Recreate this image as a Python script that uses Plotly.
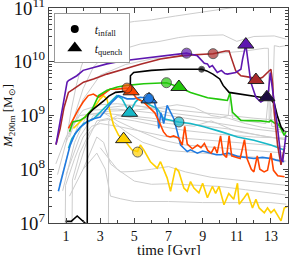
import plotly.graph_objects as go

# ---------------- data (time in Gyr, log10 of M200m in Msun) ----------------
purple_t = [0.41, 0.65, 0.88, 1.06, 1.14, 1.33, 1.63, 2.0, 2.59, 3.39, 4.35, 5.35, 6.53, 7.5, 8.06, 8.69, 8.85, 8.98,
            9.1, 9.28, 9.4, 9.57, 9.7, 9.86, 10.1, 10.3, 10.45, 10.94, 11.24, 11.34, 11.53, 11.63, 11.82, 12.12,
            12.41, 12.71, 12.86, 12.96, 13.05, 13.19, 13.39, 13.59, 13.69, 13.78, 13.88]
purple_m = [8.46, 8.88, 9.34, 9.62, 9.65, 9.68, 9.74, 9.84, 9.89, 9.96, 10.02, 10.06, 10.11, 10.15, 10.16, 10.11, 10.06,
            10.02, 9.97, 9.96, 9.90, 9.93, 9.86, 9.80, 9.84, 9.78, 9.77, 9.80, 9.86, 10.05, 10.32, 10.05, 9.62, 9.34,
            9.25, 9.31, 9.46, 9.80, 9.55, 9.25, 8.76, 8.20, 8.14, 8.39, 8.64]

brown_t = [0.41, 0.65, 0.88, 1.14, 1.43, 2.02, 2.61, 3.39, 4.37, 5.41, 6.53, 7.7, 8.5, 9.61, 10.35, 10.55, 10.65,
           10.94, 11.24, 11.82, 12.12, 12.51, 12.8, 13.0, 13.1, 13.19, 13.39, 13.5, 13.59, 13.69, 13.8]
brown_m = [8.46, 8.75, 9.15, 9.43, 9.49, 9.62, 9.68, 9.77, 9.86, 9.96, 10.05, 10.11, 10.13, 10.15, 10.20, 10.20, 10.10,
           9.83, 9.74, 9.71, 9.66, 9.71, 9.80, 9.86, 9.60, 9.06, 8.45, 8.20, 8.08, 8.25, 8.40]

black_t = [0.97, 1.3, 1.65, 2.0, 2.18, 2.24, 2.25, 2.3, 2.6, 3.2, 3.5, 3.9, 4.7, 4.76, 4.77, 4.96, 6.0, 7.12, 8.0,
           8.94, 9.24, 9.6, 10.0, 10.2, 10.55, 11.24, 11.82, 12.4, 12.8, 13.0, 13.2, 13.39, 13.59, 13.78]
black_m = [7.03, 7.03, 7.13, 7.02, 6.98, 6.90, 8.95, 9.02, 9.12, 9.27, 9.36, 9.43, 9.46, 9.46, 9.74, 9.80, 9.84, 9.86,
           9.86, 9.86, 9.83, 9.77, 9.68, 9.56, 9.43, 9.40, 9.37, 9.34, 9.36, 9.30, 9.22, 8.98, 8.79, 8.70]

green_t = [1.2, 1.3, 1.4, 1.82, 2.12, 2.55, 2.9, 3.4, 4.0, 4.57, 5.55, 6.88, 7.2, 7.61, 8.29, 9.29, 10.0, 10.45,
           10.6, 10.75, 11.24, 11.82, 12.4, 12.9, 13.0, 13.2, 13.4, 13.59, 13.78, 13.88]
green_m = [8.70, 8.79, 8.88, 8.91, 8.97, 9.13, 9.37, 9.47, 9.53, 9.56, 9.59, 9.61, 9.58, 9.53, 9.43, 9.33, 9.30, 9.28,
           9.42, 9.06, 8.91, 8.91, 8.90, 8.88, 8.91, 8.86, 8.85, 8.75, 8.63, 8.70]

orange_t = [1.14, 1.33, 1.7, 2.0, 2.3, 2.6, 2.9, 3.2, 3.59, 4.0, 4.37, 4.57, 4.81, 5.16, 5.55, 5.94, 6.2, 6.5, 6.7,
            6.9, 7.1, 7.3, 7.6, 7.8, 7.95, 8.1, 8.4, 8.7, 8.9, 9.1, 9.3, 9.5, 9.7, 9.85, 10.05, 10.2, 10.4, 10.55,
            10.7, 11.0, 11.2, 11.45, 11.6, 11.85, 12.0, 12.2, 12.35, 12.6, 12.8, 13.0, 13.15, 13.4, 13.8]
orange_m = [8.76, 8.88, 9.10, 9.25, 9.37, 9.40, 9.34, 9.40, 9.49, 9.49, 9.51, 9.51, 9.45, 9.31, 9.25, 9.13, 9.05,
            8.85, 8.70, 8.62, 8.60, 8.62, 8.58, 8.45, 8.80, 8.47, 8.38, 8.45, 8.40, 8.48, 8.35, 8.30, 8.42, 8.30,
            8.62, 8.28, 8.22, 8.62, 8.25, 8.22, 8.20, 8.55, 8.20, 8.00, 7.95, 8.25, 8.00, 7.95, 7.98, 8.30, 7.98,
            7.88, 7.86]

blue_t = [0.55, 0.75, 0.94, 1.04, 1.24, 1.53, 1.82, 2.22, 2.61, 3.0, 3.39, 3.69, 4.08, 4.35, 4.57, 4.96, 5.35, 5.84,
          6.14, 6.34, 6.43, 6.55, 6.72, 6.92, 7.12, 7.31, 7.51, 7.71, 7.9, 8.1, 8.29, 8.69, 9.0, 9.47, 9.8, 10.06,
          10.5, 11.04, 11.5, 12.0, 12.5, 13.0, 13.3, 13.78]
blue_m = [7.59, 7.84, 8.08, 8.20, 8.45, 8.66, 8.78, 8.88, 8.94, 8.97, 9.13, 9.25, 9.37, 9.34, 9.31, 9.31, 9.34, 9.32,
          9.28, 9.06, 8.76, 9.05, 8.85, 9.19, 9.06, 8.94, 8.70, 8.45, 8.39, 8.33, 8.36, 8.30, 8.34, 8.30, 8.27,
          8.27, 8.30, 8.24, 8.22, 8.20, 8.22, 8.20, 8.17, 8.14]

cyan_t = [1.14, 1.34, 1.63, 2.02, 2.61, 3.0, 3.39, 3.78, 3.98, 4.28, 4.47, 4.72, 5.06, 5.25, 5.55, 5.94, 6.34, 6.72,
          7.12, 7.61, 8.29, 9.08, 10.06, 11.04, 12.0, 13.0, 13.78]
cyan_m = [8.39, 8.57, 8.70, 8.85, 8.94, 9.06, 9.19, 9.31, 9.37, 9.31, 9.19, 9.05, 9.25, 9.31, 9.25, 9.19, 9.13, 8.94,
          8.91, 8.88, 8.85, 8.79, 8.70, 8.60, 8.54, 8.45, 8.36]

yellow_t = [1.43, 1.82, 2.22, 2.61, 3.0, 3.19, 3.39, 3.59, 3.78, 4.08, 4.37, 4.57, 4.86, 5.19, 5.35, 5.55, 5.94, 6.34,
            6.53, 6.92, 7.12, 7.41, 7.6, 7.9, 8.1, 8.29, 8.49, 8.78, 9.0, 9.28, 9.57, 9.76, 9.96, 10.25, 10.53,
            10.82, 11.04, 11.14, 11.43, 11.63, 11.92, 12.12, 12.31, 12.61, 12.8, 13.0, 13.19, 13.39, 13.59, 13.78,
            13.98]
yellow_m = [8.76, 8.88, 9.00, 9.13, 9.31, 9.37, 9.31, 9.06, 8.82, 8.63, 8.55, 8.48, 8.36, 8.33, 8.45, 8.36, 8.14,
            8.02, 8.14, 7.84, 7.59, 8.02, 7.96, 7.65, 7.59, 7.77, 7.65, 7.56, 7.74, 7.47, 7.68, 7.55, 7.68, 7.34,
            7.55, 7.44, 7.74, 7.35, 7.47, 7.56, 7.28, 7.44, 7.28, 7.19, 7.28, 7.19, 7.25, 7.13, 7.04, 7.28, 7.31]

# background (grey) haloes
gray01_t = [1.0, 1.3, 1.6, 1.9, 2.2, 2.5, 3.0, 3.8, 5.0, 6.0, 7.4, 9.3, 10.6, 12.0]
gray01_m = [8.5, 9.1, 9.56, 9.92, 10.17, 10.42, 10.60, 10.69, 10.75, 10.78, 10.85, 10.94, 11.0, 11.05]
gray02_t = [1.3, 2.0, 2.6, 3.2, 4.5, 5.35, 6.5, 7.6, 8.3, 10.2, 11.0, 11.5, 12.0, 13.2, 13.9]
gray02_m = [8.8, 9.5, 9.9, 10.1, 10.25, 10.33, 10.38, 10.45, 10.48, 10.50, 10.38, 10.42, 10.47, 10.48, 10.42]
gray03_t = [1.2, 2.0, 3.0, 4.5, 6.0, 8.0, 10.0, 11.5, 12.6, 12.85, 12.9, 13.1, 13.2, 13.5, 13.9]
gray03_m = [8.6, 9.3, 9.75, 9.95, 10.05, 10.10, 10.15, 10.20, 10.25, 10.25, 8.9, 9.2, 10.3, 10.28, 10.30]
gray04_t = [0.5, 1.0, 1.5, 2.0, 3.0, 4.0, 5.0, 6.0, 8.0, 10.0, 12.0, 13.0, 13.9]
gray04_m = [7.9, 8.5, 8.9, 9.1, 9.2, 9.22, 9.18, 9.15, 9.08, 9.02, 8.95, 8.92, 8.90]
gray05_t = [0.6, 1.2, 1.8, 2.5, 4.0, 6.0, 8.0, 10.0, 12.0, 13.9]
gray05_m = [7.7, 8.4, 8.9, 9.1, 9.12, 9.05, 8.95, 8.85, 8.75, 8.68]
gray06_t = [0.4, 1.0, 1.8, 3.0, 4.5, 6.0, 8.0, 10.5, 12.5, 13.9]
gray06_m = [8.1, 8.6, 9.0, 9.05, 9.0, 8.95, 8.85, 8.75, 8.62, 8.55]
gray07_t = [0.8, 1.5, 2.2, 3.5, 5.0, 6.5, 7.5, 8.5, 9.5, 10.5, 11.5, 12.5, 13.9]
gray07_m = [7.6, 8.5, 9.0, 9.08, 9.1, 9.15, 9.2, 9.15, 9.0, 8.95, 8.85, 8.78, 8.72]
gray08_t = [1.0, 1.8, 2.6, 3.2, 4.0, 5.0, 6.5, 8.0, 10.0, 12.0, 13.9]
gray08_m = [7.9, 8.6, 9.0, 9.05, 8.9, 8.75, 8.55, 8.45, 8.40, 8.35, 8.30]
gray09_t = [1.5, 2.2, 2.8, 3.5, 4.5, 5.5, 7.0, 9.0, 11.0, 13.0, 13.9]
gray09_m = [7.8, 8.5, 8.9, 8.95, 8.7, 8.5, 8.35, 8.3, 8.25, 8.2, 8.15]
gray10_t = [2.0, 2.8, 3.2, 3.6, 4.2, 5.0, 6.0, 7.0, 8.0, 9.5, 11.0, 12.5, 13.9]
gray10_m = [8.0, 8.6, 8.5, 8.1, 7.95, 7.96, 8.0, 8.05, 7.95, 7.85, 7.8, 7.75, 7.7]
gray11_t = [1.2, 2.0, 2.8, 3.3, 3.6, 4.2, 5.0, 7.0, 9.0, 11.0, 13.0, 13.9]
gray11_m = [7.5, 8.0, 8.3, 8.0, 7.5, 7.45, 7.4, 7.4, 7.38, 7.38, 7.38, 7.35]
gray12_t = [3.48, 3.5, 4.0, 5.0, 6.0, 7.0, 8.5, 9.5, 11.0, 13.0, 13.9]
gray12_m = [6.9, 8.9, 9.0, 8.95, 8.9, 8.85, 8.8, 8.9, 8.7, 8.6, 8.55]
gray13_t = [0.95, 0.97, 1.5, 2.0, 2.5, 3.0, 4.0, 5.5, 7.0, 9.0, 11.0, 13.0, 13.9]
gray13_m = [6.9, 7.7, 8.2, 8.6, 8.8, 8.85, 8.8, 8.7, 8.6, 8.55, 8.5, 8.45, 8.42]
gray14_t = [1.35, 1.37, 1.8, 2.4, 3.0, 4.0, 5.0, 6.5, 8.0, 10.0, 12.0, 13.9]
gray14_m = [6.9, 7.8, 8.3, 8.7, 8.9, 8.95, 8.9, 8.8, 8.72, 8.65, 8.6, 8.58]
gray15_t = [2.5, 3.5, 5.0, 7.0, 9.0, 10.0, 10.5, 10.62, 10.75, 11.5, 12.7, 12.9, 13.05, 13.9]
gray15_m = [8.9, 9.15, 9.2, 9.05, 8.97, 8.95, 9.0, 9.4, 8.95, 8.9, 8.85, 9.5, 8.8, 8.75]
gray16_t = [3.0, 4.0, 5.0, 6.0, 7.0, 8.5, 10.0, 11.5, 13.0, 13.9]
gray16_m = [8.4, 8.0, 7.78, 7.72, 7.73, 7.7, 7.68, 7.62, 7.55, 7.52]

# event markers: (time, log10 mass)
infall_t = [8.06, 9.61, 8.94, 6.88, 4.57, 5.84, 7.61, 5.19]
infall_m = [10.16, 10.15, 9.86, 9.61, 9.51, 9.32, 8.88, 8.32]
quench_t = [11.53, 12.12, 12.76, 7.61, 4.81, 5.86, 4.72, 4.37]
quench_m = [10.32, 9.66, 9.34, 9.53, 9.45, 9.30, 9.05, 8.56]

x_tick_vals = [1, 3, 5, 7, 9, 11, 13]

# ---------------- figure ----------------
GRAYS = [(gray01_t, gray01_m), (gray02_t, gray02_m), (gray03_t, gray03_m), (gray04_t, gray04_m),
         (gray05_t, gray05_m), (gray06_t, gray06_m), (gray07_t, gray07_m), (gray08_t, gray08_m),
         (gray09_t, gray09_m), (gray10_t, gray10_m), (gray11_t, gray11_m), (gray12_t, gray12_m),
         (gray13_t, gray13_m), (gray14_t, gray14_m), (gray15_t, gray15_m), (gray16_t, gray16_m)]

COLOURED = [
    (yellow_t, yellow_m, "#ffd000"),
    (cyan_t, cyan_m, "#17b8c8"),
    (blue_t, blue_m, "#1f7ae0"),
    (orange_t, orange_m, "#ff4500"),
    (green_t, green_m, "#22c80a"),
    (black_t, black_m, "#000000"),
    (brown_t, brown_m, "#aa2a2a"),
    (purple_t, purple_m, "#5e17b0"),
]
marker_colours = ["#5e17b0", "#aa2a2a", "#000000", "#22c80a", "#ff4500", "#1f7ae0", "#17b8c8", "#ffd000"]
quench_colours = ["#5e17b0", "#aa2a2a", "#1c0b3f", "#22c80a", "#ff4500", "#1f7ae0", "#17b8c8", "#ffd000"]
infall_sizes = [10, 10, 6, 10, 10, 10, 10, 10]

def mass(v):
    return [10 ** x for x in v]

fig = go.Figure()
for gt, gm in GRAYS:
    fig.add_trace(go.Scatter(x=gt, y=mass(gm), mode="lines", line=dict(color="#cdcdcd", width=1),
                             showlegend=False, hoverinfo="skip"))
for ct, cm, col in COLOURED:
    fig.add_trace(go.Scatter(x=ct, y=mass(cm), mode="lines", line=dict(color=col, width=1.6),
                             showlegend=False, hoverinfo="skip"))

fig.add_trace(go.Scatter(x=quench_t, y=mass(quench_m), mode="markers", showlegend=False,
                         marker=dict(symbol="triangle-up", size=14, color=quench_colours,
                                     line=dict(color="#222", width=1))))
fig.add_trace(go.Scatter(x=infall_t, y=mass(infall_m), mode="markers", showlegend=False,
                         marker=dict(symbol="circle", size=infall_sizes, color=marker_colours,
                                     line=dict(color="#222", width=1))))

# legend entries
fig.add_trace(go.Scatter(x=[None], y=[None], mode="markers", name="<i>t</i><sub>infall</sub>",
                         marker=dict(symbol="circle", size=8, color="black")))
fig.add_trace(go.Scatter(x=[None], y=[None], mode="markers", name="<i>t</i><sub>quench</sub>",
                         marker=dict(symbol="triangle-up", size=13, color="black")))

FONT = "Liberation Serif"
fig.update_layout(
    width=291, height=255, autosize=False,
    margin=dict(l=49, r=3, t=8, b=32),
    paper_bgcolor="white", plot_bgcolor="white",
    font=dict(family=FONT, size=14, color="#111"),
    legend=dict(x=0.02, y=0.975, xanchor="left", yanchor="top", bgcolor="white",
                bordercolor="#999", borderwidth=1, font=dict(size=12, family=FONT),
                itemwidth=30, tracegroupgap=0),
    annotations=[dict(text="time [Gyr]", xref="paper", yref="paper", x=0.5, y=-0.078,
                      xanchor="center", yanchor="top", showarrow=False, font=dict(size=15))],
)
fig.update_xaxes(range=[0, 14], tickvals=x_tick_vals, ticks="inside", ticklen=5, tickcolor="#444",
                 showline=True, linecolor="#444", linewidth=1, mirror="ticks", showgrid=False, zeroline=False,
                 minor=dict(ticks="inside", dtick=1, ticklen=3, tickcolor="#444"),
                 automargin=False, ticklabeloverflow="allow",
                 tickfont=dict(size=14))
fig.update_yaxes(type="log", range=[7, 11], dtick=1, exponentformat="power", ticks="inside", ticklen=5,
                 tickcolor="#444", showline=True, linecolor="#444", linewidth=1, mirror="ticks",
                 showgrid=False, zeroline=False, automargin=False, ticklabeloverflow="allow",
                 minor=dict(ticks="inside", dtick="D1", ticklen=3, tickcolor="#444"),
                 title=dict(text="<i>M</i><sub>200m</sub> [M<sub>⊙</sub>]", standoff=0, font=dict(size=13)),
                 tickfont=dict(size=15))

fig.write_html("out.html", config={"displayModeBar": False},
               post_script="document.body.style.margin='0px';document.body.style.padding='0px';")
